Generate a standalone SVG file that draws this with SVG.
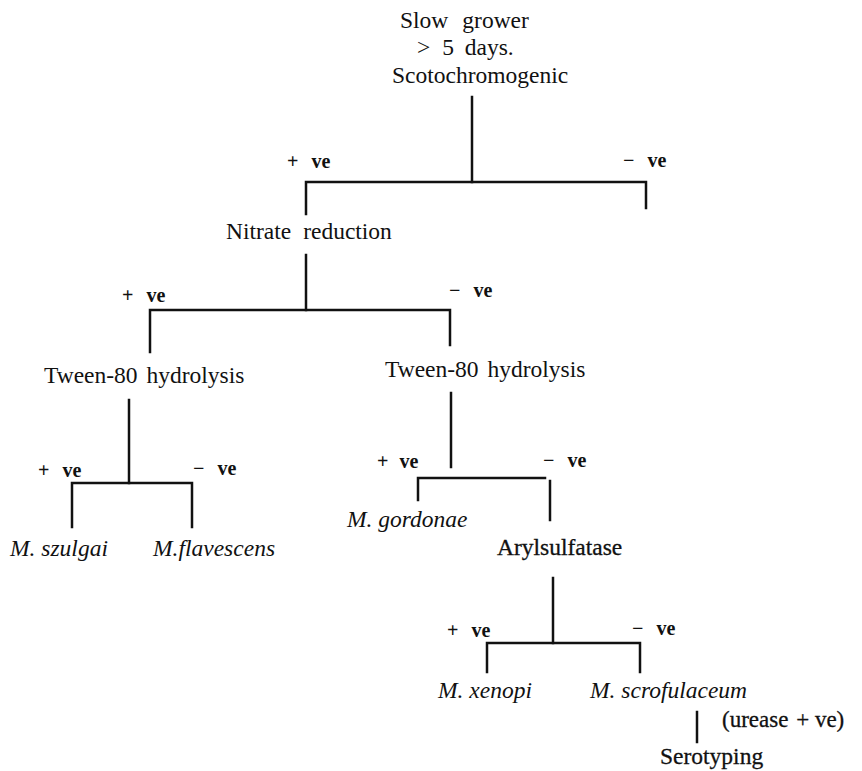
<svg xmlns="http://www.w3.org/2000/svg" width="862" height="771" viewBox="0 0 862 771">
<style>
text{font-family:"Liberation Serif","Times New Roman",serif;font-size:23.5px;fill:#111}
.it{font-style:italic}
.sb{stroke:#111;stroke-width:0.3}
.sg{font-size:20px;font-weight:bold}
.ln{stroke:#111;stroke-width:2.5;fill:none;stroke-linecap:square}
</style>
<rect width="862" height="771" fill="#fff"/>
<g id="connectors" class="ln">
<path d="M472,97 V182"/>
<path d="M306,214 V182 H646 V208"/>
<path d="M306,255 V310"/>
<path d="M150,352 V310 H450 V345"/>
<path d="M129,400 V483"/>
<path d="M72,527 V483 H192 V527"/>
<path d="M451,393 V467"/>
<path d="M418,500 V478 H545"/>
<path d="M550,481 V520"/>
<path d="M553,578 V643"/>
<path d="M487,672 V643 H640 V672"/>
<path d="M697,712 V742"/>
</g>
<g id="root"><text x="400" y="28">Slow<tspan dx="14">grower</tspan></text><text x="417" y="55">&gt;<tspan dx="6"> 5</tspan><tspan dx="5"> days.</tspan></text><text x="392" y="83">Scotochromogenic</text></g>
<g id="lbl1"><text class="sg" x="287" y="168">+<tspan dx="8"> ve</tspan></text><text class="sg" x="623" y="167">−<tspan dx="8"> ve</tspan></text></g>
<g id="nitrate"><text x="226" y="239">Nitrate<tspan dx="6"> reduction</tspan></text></g>
<g id="lbl2"><text class="sg" x="122" y="302">+<tspan dx="8"> ve</tspan></text><text class="sg" x="449" y="297">−<tspan dx="8"> ve</tspan></text></g>
<g id="tweenL"><text x="44" y="383">Tween-80<tspan dx="3"> hydrolysis</tspan></text></g>
<g id="tweenR"><text x="385" y="377">Tween-80<tspan dx="3"> hydrolysis</tspan></text></g>
<g id="lbl3"><text class="sg" x="38" y="477">+<tspan dx="8"> ve</tspan></text><text class="sg" x="193" y="475">−<tspan dx="8"> ve</tspan></text></g>
<g id="szulgai"><text class="it" x="10" y="556">M. szulgai</text></g>
<g id="flavescens"><text class="it" x="153" y="556">M.flavescens</text></g>
<g id="lbl4"><text class="sg" x="377" y="468">+<tspan dx="6"> ve</tspan></text><text class="sg" x="543" y="467">−<tspan dx="8"> ve</tspan></text></g>
<g id="gordonae"><text class="it" x="347" y="527">M. gordonae</text></g>
<g id="aryl"><text class="sb" x="497" y="555">Arylsulfatase</text></g>
<g id="lbl5"><text class="sg" x="447" y="637">+<tspan dx="8"> ve</tspan></text><text class="sg" x="632" y="635">−<tspan dx="8"> ve</tspan></text></g>
<g id="xenopi"><text class="it" x="438" y="698">M. xenopi</text></g>
<g id="scrof"><text class="it" x="590" y="698">M. scrofulaceum</text></g>
<g id="urease"><text class="sb" x="722" y="727" style="font-size:23px">(urease<tspan dx="2"> +</tspan> ve)</text></g>
<g id="sero"><text class="sb" x="660" y="764">Serotyping</text></g>
</svg>
